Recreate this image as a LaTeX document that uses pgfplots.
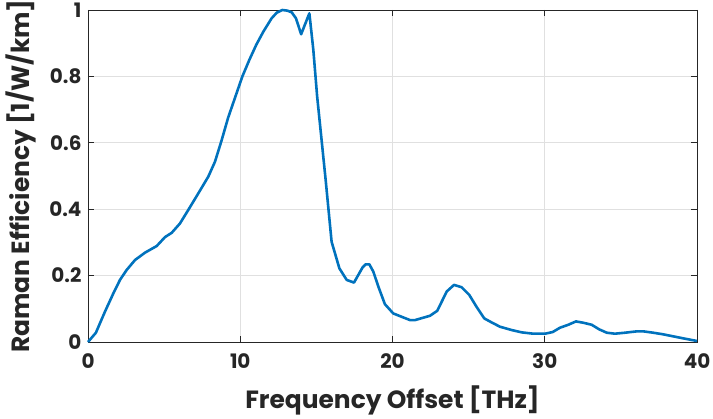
\documentclass[border=0pt]{standalone}
\usepackage{fontspec}
\setmainfont{Poppins}
\usepackage{pgfplots}
\pgfplotsset{compat=1.18}
\definecolor{ramanblue}{RGB}{0,114,189}
\definecolor{axisgray}{RGB}{38,38,38}

\begin{document}
\begin{tikzpicture}
\begin{axis}[
  scale only axis,
  width=609bp, height=332bp,
  xmin=0, xmax=40, ymin=0, ymax=1,
  xtick={0,10,20,30,40},
  ytick={0,0.2,0.4,0.6,0.8,1},
  yticklabels={0,0.2,0.4,0.6,0.8,1},
  /pgf/number format/assume math mode=true,
  tick label style={font=\fontsize{20}{24}\selectfont\bfseries, text=axisgray},
  xticklabel style={yshift=-8bp},
  yticklabel style={xshift=-3bp},
  label style={font=\fontsize{25}{30}\selectfont\bfseries, text=axisgray},
  xlabel={Frequency Offset [THz]},
  ylabel={Raman Efficiency [1/W/km]},
  xlabel style={yshift=-10bp},
  ylabel style={yshift=6bp},
  grid=major,
  major grid style={line width=0.6pt, draw=black!12},
  axis line style={draw=axisgray, line width=0.8pt},
  tick style={draw=axisgray, line width=0.8pt},
  tick align=inside,
  major tick length=6bp,
  xtick pos=both, ytick pos=both,
  clip=false,
]
\addplot[color=ramanblue, line width=2.6pt, line join=round] coordinates {
(0,0) (0.52,0.028) (1.11,0.091) (1.66,0.146) (2.10,0.187) (2.54,0.217)
(3.09,0.247) (3.74,0.269) (4.51,0.289) (5.06,0.316) (5.5,0.329)
(6.04,0.357) (6.59,0.398) (7.25,0.448) (7.90,0.498) (8.34,0.543)
(8.78,0.608) (9.2,0.675) (9.65,0.735) (10.14,0.80) (10.6,0.85)
(11.05,0.895) (11.52,0.935) (12.06,0.975) (12.4,0.992) (12.76,1.0)
(13.1,0.998) (13.38,0.993) (13.66,0.975) (14.0,0.927) (14.54,0.99)
(14.8,0.88) (15.05,0.74) (15.41,0.578) (15.61,0.488) (16.0,0.302)
(16.51,0.222) (16.99,0.187) (17.47,0.179) (18.04,0.225) (18.24,0.234)
(18.48,0.234) (18.74,0.212) (19.07,0.167) (19.5,0.114) (20.05,0.086)
(20.49,0.078) (21.15,0.066) (21.48,0.066) (22.46,0.079) (22.94,0.094)
(23.56,0.152) (24.04,0.172) (24.54,0.165) (25.04,0.142) (25.52,0.106)
(26.03,0.071) (26.51,0.059) (27.06,0.046) (27.83,0.036) (28.49,0.029)
(29.25,0.025) (30.02,0.025) (30.52,0.030) (31.0,0.043) (31.55,0.052)
(32.05,0.062) (32.53,0.058) (33.08,0.052) (33.58,0.038) (34.07,0.028)
(34.61,0.025) (35.27,0.028) (36.04,0.032) (36.48,0.032) (37.13,0.028)
(37.79,0.023) (38.44,0.017) (39.1,0.011) (40,0.003)
};
\end{axis}
\pgfresetboundingbox
\path[use as bounding box] (-88bp,-77bp) rectangle (625bp,342bp);
\end{tikzpicture}
\end{document}
